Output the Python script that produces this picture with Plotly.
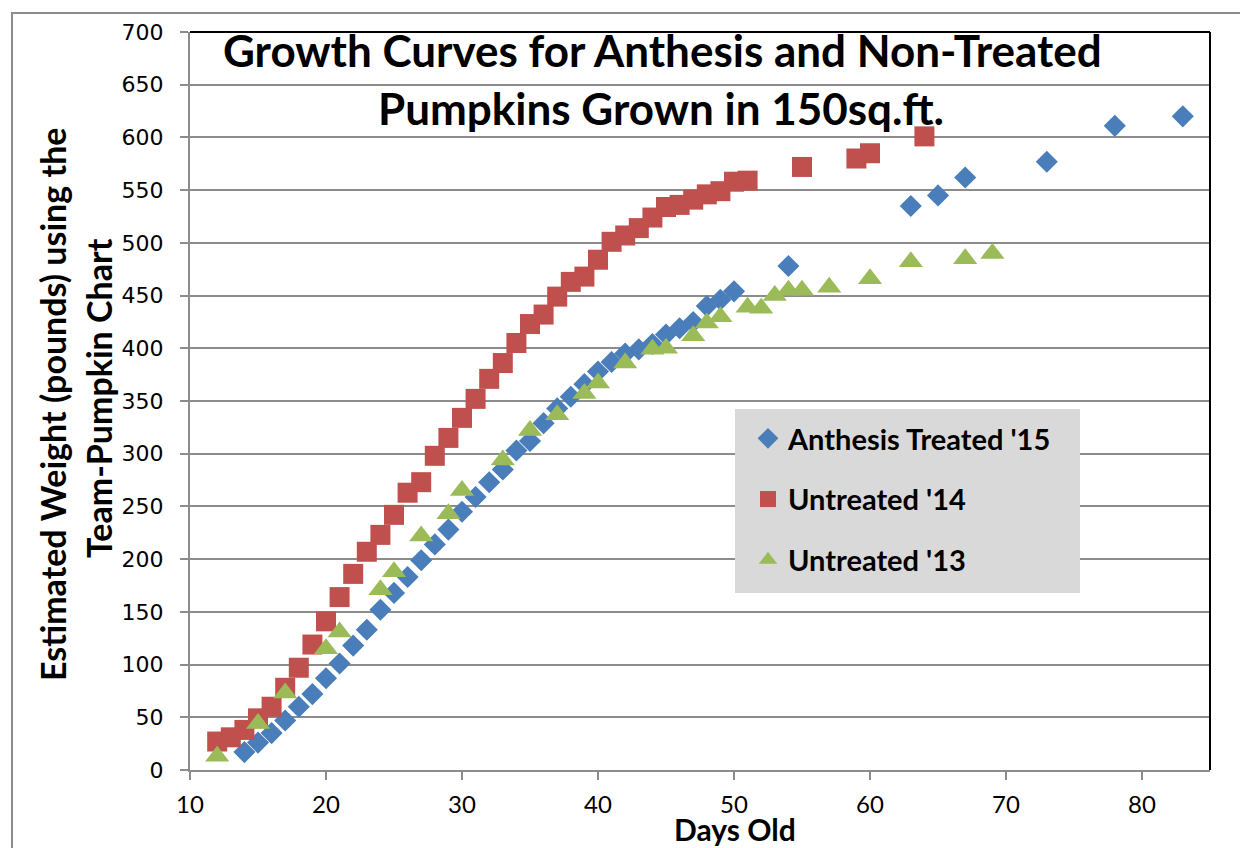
import plotly.graph_objects as go

# ---- data ----
anthesis_days = [14, 15, 16, 17, 18, 19, 20, 21, 22, 23, 24, 25, 26, 27, 28, 29, 30, 31, 32, 33,
                 34, 35, 36, 37, 38, 39, 40, 41, 42, 43, 44, 45, 46, 47, 48, 49, 50,
                 54, 63, 65, 67, 73, 78, 83]
anthesis_weight = [17, 26, 35, 47, 60, 72, 87, 101, 118, 133, 152, 168, 183, 199, 214, 228, 245, 259, 273, 285,
                   303, 312, 329, 343, 354, 366, 378, 387, 395, 399, 404, 413, 419, 425, 440, 446, 454,
                   478, 535, 545, 562, 577, 611, 620]

untreated14_days = [12, 13, 14, 15, 16, 17, 18, 19, 20, 21, 22, 23, 24, 25, 26, 27, 28, 29, 30, 31,
                    32, 33, 34, 35, 36, 37, 38, 39, 40, 41, 42, 43, 44, 45, 46, 47, 48, 49, 50, 51,
                    55, 59, 60, 64]
untreated14_weight = [27, 31, 38, 49, 60, 78, 97, 119, 141, 164, 186, 207, 223, 242, 263, 273, 298, 315, 334, 352,
                      371, 386, 405, 423, 432, 449, 463, 468, 484, 501, 507, 514, 524, 534, 536, 541, 546, 549, 558, 559,
                      572, 580, 585, 601]

untreated13_days = [12, 15, 17, 20, 21, 24, 25, 27, 29, 30, 33, 35, 37, 39, 40, 42, 44, 45, 47, 48,
                    49, 51, 52, 53, 54, 55, 57, 60, 63, 67, 69]
untreated13_weight = [13, 44, 73, 115, 131, 171, 188, 222, 243, 265, 294, 322, 337, 357, 367, 386, 399, 400, 412, 424,
                      430, 439, 438, 450, 455, 455, 458, 466, 482, 485, 490]

series_names = ["Anthesis Treated '15", "Untreated '14", "Untreated '13"]

title_lines = ["Growth Curves for Anthesis and Non-Treated", "Pumpkins Grown in 150sq.ft."]
y_title_lines = ["Estimated Weight (pounds) using the", "Team-Pumpkin Chart"]
x_title = "Days Old"

# ---- figure ----
# page body has an 8px margin, so the figure is 8px smaller than the window
OFF = 8
W, H = 1240, 840
ML, MR, MT, MB = 182, 38, 24, 78
PW, PH = W - ML - MR, H - MT - MB


def px_x(px):  # px in window coordinates
    return (px - OFF - ML) / PW


def px_y(py):
    return (H - MB - (py - OFF)) / PH


fig = go.Figure()
fig.add_trace(go.Scatter(x=anthesis_days, y=anthesis_weight, mode="markers", name=series_names[0],
                         legendgroup="a",
                         marker=dict(symbol="diamond", size=17, color="#4A7EBB", line=dict(width=0))))
fig.add_trace(go.Scatter(x=untreated14_days, y=untreated14_weight, mode="markers", name=series_names[1],
                         legendgroup="b",
                         marker=dict(symbol="square", size=20, color="#C0504D", line=dict(width=0))))
fig.add_trace(go.Scatter(x=untreated13_days, y=untreated13_weight, mode="markers", name=series_names[2],
                         legendgroup="c",
                         marker=dict(symbol="triangle-up", size=21, color="#9BBB59", line=dict(width=0))))

grid_c = "#8C8C8C"
fig.update_xaxes(range=[10, 85], tick0=10, dtick=10, showgrid=False, zeroline=False,
                 showline=True, linecolor=grid_c, linewidth=2,
                 ticks="outside", ticklen=8, tickwidth=2, tickcolor=grid_c,
                 tickfont=dict(family="Lato", size=24, color="#000000"),
                 ticklabelstandoff=4)
fig.update_yaxes(range=[0, 700], tick0=0, dtick=50, showgrid=True, gridcolor=grid_c, gridwidth=2,
                 zeroline=False, showline=True, linecolor=grid_c, linewidth=2,
                 ticks="outside", ticklen=8, tickwidth=2, tickcolor=grid_c,
                 tickfont=dict(family="DejaVu Sans", size=22, color="#000000"),
                 ticklabelstandoff=12)

shapes = [
    # outer chart border
    dict(type="rect", xref="paper", yref="paper", x0=px_x(12), x1=px_x(1270), y0=px_y(870), y1=px_y(13),
         line=dict(color="#8C8C8C", width=2), fillcolor="rgba(0,0,0,0)", layer="below"),
    # plot area border (top, right)
    dict(type="line", xref="paper", yref="paper", x0=0, x1=1, y0=1, y1=1, line=dict(color="#000000", width=2)),
    dict(type="line", xref="paper", yref="paper", x0=1, x1=1, y0=0, y1=1, line=dict(color="#000000", width=2)),
    # legend box
    dict(type="rect", xref="paper", yref="paper", x0=px_x(735), x1=px_x(1080), y0=px_y(593), y1=px_y(409),
         line=dict(width=0), fillcolor="#D9D9D9", layer="above"),
]

annotations = [
    dict(text=f"<b>{title_lines[0]}</b>", x=px_x(662), y=px_y(50), xref="paper", yref="paper",
         showarrow=False, xanchor="center", yanchor="middle",
         font=dict(family="Lato", size=44, color="#000000")),
    dict(text=f"<b>{title_lines[1]}</b>", x=px_x(661), y=px_y(108), xref="paper", yref="paper",
         showarrow=False, xanchor="center", yanchor="middle",
         font=dict(family="Lato", size=44, color="#000000")),
    dict(text=f"<b>{y_title_lines[0]}</b>", x=px_x(52), y=px_y(404), xref="paper", yref="paper",
         showarrow=False, xanchor="center", yanchor="middle", textangle=-90,
         font=dict(family="Lato", size=34, color="#000000")),
    dict(text=f"<b>{y_title_lines[1]}</b>", x=px_x(98), y=px_y(398), xref="paper", yref="paper",
         showarrow=False, xanchor="center", yanchor="middle", textangle=-90,
         font=dict(family="Lato", size=34, color="#000000")),
    dict(text=f"<b>{x_title}</b>", x=px_x(735), y=px_y(829), xref="paper", yref="paper",
         showarrow=False, xanchor="center", yanchor="middle",
         font=dict(family="Lato", size=30, color="#000000")),
]

fig.update_layout(
    width=W, height=H,
    margin=dict(l=ML, r=MR, t=MT, b=MB),
    paper_bgcolor="#FFFFFF", plot_bgcolor="#FFFFFF",
    shapes=shapes, annotations=annotations,
    showlegend=True,
    legend=dict(x=px_x(748), y=px_y(413), xanchor="left", yanchor="top",
                bgcolor="rgba(0,0,0,0)", borderwidth=0,
                font=dict(family="Lato", size=29, color="#000000", weight="bold"),
                tracegroupgap=20, itemsizing="trace"),
)

fig.write_html("out.html")
